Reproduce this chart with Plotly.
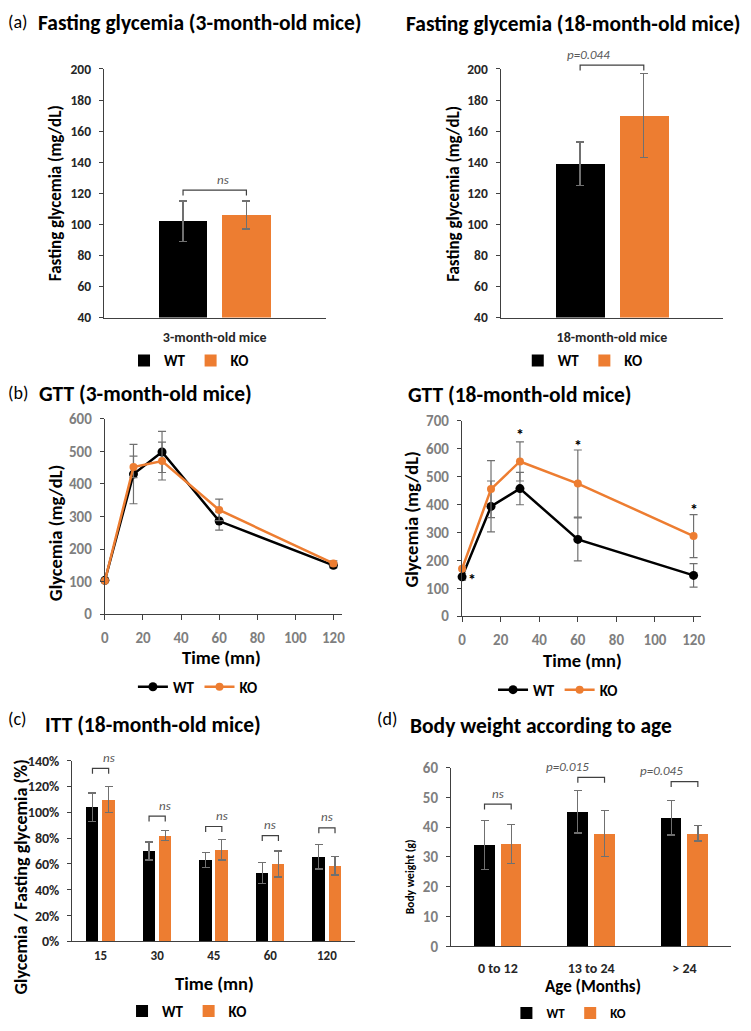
import plotly.graph_objects as go

W, H = 751, 1031
ORANGE = "#ED7D31"
BLACK = "#000000"
FONT = "Carlito, Lato, 'Open Sans', sans-serif"
AXC = "#404040"
ERRC = "#707070"
DARK = "#262626"
GREY = "#7f7f7f"
SIGC = "#595959"

# ---------------- data ----------------
groups = ["WT", "KO"]

# (a) fasting glycemia
fg3_cat = ["3-month-old mice"]
fg3_wt = [102]
fg3_wt_err = [13]
fg3_ko = [106]
fg3_ko_err = [9]
fg3_sig = ["ns"]
fg3_bracket = [122]

fg18_cat = ["18-month-old mice"]
fg18_wt = [139]
fg18_wt_err = [14]
fg18_ko = [170]
fg18_ko_err = [27]
fg18_sig = ["p=0.044"]
fg18_bracket = [202.5]

# (b) GTT
gtt_time = [0, 15, 30, 60, 120]
gtt3_wt = [104, 430, 498, 286, 150]
gtt3_wt_err = [6, 91, 63, 28, 8]
gtt3_ko = [103, 452, 470, 320, 156]
gtt3_ko_err = [5, 33, 58, 33, 8]

gtt18_wt = [141, 393, 457, 275, 146]
gtt18_wt_err = [12, 91, 58, 77, 42]
gtt18_ko = [170, 455, 554, 475, 287]
gtt18_ko_err = [8, 102, 70, 120, 77]
gtt18_star_time = [5, 30, 60, 120]
gtt18_star_y = [144, 665, 626, 397]

# (c) ITT
itt_time = ["15", "30", "45", "60", "120"]
itt_wt = [1.04, 0.70, 0.63, 0.53, 0.655]
itt_wt_err = [0.11, 0.07, 0.06, 0.08, 0.095]
itt_ko = [1.10, 0.82, 0.71, 0.60, 0.585]
itt_ko_err = [0.10, 0.04, 0.08, 0.10, 0.07]
itt_sig = ["ns", "ns", "ns", "ns", "ns"]
itt_bracket = [1.34, 0.97, 0.89, 0.82, 0.88]

# (d) body weight
bw_age = ["0 to 12", "13 to 24", "> 24"]
bw_wt = [34.0, 45.2, 43.2]
bw_wt_err = [8.3, 7.2, 5.8]
bw_ko = [34.4, 37.9, 37.9]
bw_ko_err = [6.6, 7.7, 2.6]
bw_sig = ["ns", "p=0.015", "p=0.045"]
bw_bracket = [47.7, 56.7, 55.3]

# ---------------- panel geometry (pixels) ----------------
PANELS = {
    1: dict(x=(101, 325), y=(61, 314), xr=(-0.5, 0.5), yr=(40, 200)),
    2: dict(x=(502, 727), y=(61, 314), xr=(-0.5, 0.5), yr=(40, 200)),
    3: dict(x=(102, 342), y=(417, 616), xr=(0, 124.7), yr=(0, 600)),
    4: dict(x=(463, 705), y=(419, 618), xr=(0, 124.1), yr=(0, 700)),
    5: dict(x=(69, 355), y=(765, 949), xr=(-0.5, 4.5), yr=(0, 1.4)),
    6: dict(x=(452, 735), y=(772, 954), xr=(-0.5, 2.5), yr=(0, 60)),
}


def px(x):
    return x / W


def py(y):
    return 1 - y / H


def xdom(n):
    a, b = PANELS[n]["x"]
    return [px(a), px(b)]


def ydom(n):
    top, bottom = PANELS[n]["y"]
    return [py(bottom), py(top)]


def to_paper(n, xv, yv):
    p = PANELS[n]
    xd, yd = xdom(n), ydom(n)
    x0, x1 = p["xr"]
    y0, y1 = p["yr"]
    return (xd[0] + (xv - x0) / (x1 - x0) * (xd[1] - xd[0]),
            yd[0] + (yv - y0) / (y1 - y0) * (yd[1] - yd[0]))


def ax_ids(n):
    return ("x" if n == 1 else f"x{n}", "y" if n == 1 else f"y{n}",
            "legend" if n == 1 else f"legend{n}")


BAR_W = 0.22
BAR_GAP = 0.066
WT_OFF = -BAR_W - BAR_GAP / 2
KO_OFF = BAR_GAP / 2
HALF = BAR_GAP / 2 + BAR_W / 2

fig = go.Figure()
annotations = []
shapes = []


def add_bars(n, cats, wt, wt_err, ko, ko_err):
    xs = list(range(len(cats)))
    xid, yid, leg = ax_ids(n)
    for name, vals, errs, off, color in [
        (groups[0], wt, wt_err, WT_OFF, BLACK),
        (groups[1], ko, ko_err, KO_OFF, ORANGE),
    ]:
        fig.add_trace(go.Bar(
            x=xs, y=vals, width=BAR_W, offset=off, name=name,
            marker=dict(color=color, line=dict(width=0)),
            error_y=dict(type="data", array=errs, color=ERRC, thickness=1.3, width=4),
            xaxis=xid, yaxis=yid, legend=leg,
        ))


def add_lines(n, t, wt, wt_err, ko, ko_err):
    xid, yid, leg = ax_ids(n)
    for name, vals, errs, color, ms in [
        (groups[0], wt, wt_err, BLACK, 9),
        (groups[1], ko, ko_err, ORANGE, 8),
    ]:
        fig.add_trace(go.Scatter(
            x=t, y=vals, name=name, mode="lines+markers",
            line=dict(color=color, width=2.5),
            marker=dict(color=color, size=ms),
            error_y=dict(type="data", array=errs, color=ERRC, thickness=1.2, width=4),
            cliponaxis=False, xaxis=xid, yaxis=yid, legend=leg,
        ))


def add_brackets(n, levels, labels, size):
    drop_paper = 5.5 / H
    for i, (lv, lab) in enumerate(zip(levels, labels)):
        xa, ya = to_paper(n, i - HALF, lv)
        xb, _ = to_paper(n, i + HALF, lv)
        shapes.append(dict(
            type="path", xref="paper", yref="paper",
            path=f"M {xa},{ya - drop_paper} L {xa},{ya} L {xb},{ya} L {xb},{ya - drop_paper}",
            line=dict(color=AXC, width=1.2),
        ))
        xm, _ = to_paper(n, i, lv)
        annotations.append(dict(
            x=xm, y=ya, xref="paper", yref="paper", text=f"<i>{lab}</i>", showarrow=False,
            yanchor="middle", yshift=11, font=dict(size=size, color=SIGC, family=FONT),
        ))


def text(t, x, y, size, bold=True, color=BLACK, xanchor="center", angle=0):
    annotations.append(dict(
        x=px(x), y=py(y), xref="paper", yref="paper", text=t, showarrow=False,
        xanchor=xanchor, yanchor="middle", textangle=angle,
        font=dict(size=size, color=color, family=FONT, weight="bold" if bold else "normal"),
    ))


# ---------------- traces ----------------
add_bars(1, fg3_cat, fg3_wt, fg3_wt_err, fg3_ko, fg3_ko_err)
add_bars(2, fg18_cat, fg18_wt, fg18_wt_err, fg18_ko, fg18_ko_err)
add_lines(3, gtt_time, gtt3_wt, gtt3_wt_err, gtt3_ko, gtt3_ko_err)
add_lines(4, gtt_time, gtt18_wt, gtt18_wt_err, gtt18_ko, gtt18_ko_err)
add_bars(5, itt_time, itt_wt, itt_wt_err, itt_ko, itt_ko_err)
add_bars(6, bw_age, bw_wt, bw_wt_err, bw_ko, bw_ko_err)

add_brackets(1, fg3_bracket, fg3_sig, 13)
add_brackets(2, fg18_bracket, fg18_sig, 13)
add_brackets(5, itt_bracket, itt_sig, 13)
add_brackets(6, bw_bracket, bw_sig, 13)

for t, yv in zip(gtt18_star_time, gtt18_star_y):
    annotations.append(dict(
        x=t, y=yv, xref="x4", yref="y4", text="<b>*</b>", showarrow=False,
        yanchor="middle", yshift=-4, font=dict(size=16, color=BLACK, family=FONT),
    ))

# ---------------- titles ----------------
TS = 21.5
text("(a)", 2, 13, 18, bold=False, xanchor="left")
text("Fasting glycemia (3-month-old mice)", 32, 14, TS, xanchor="left")
text("Fasting glycemia (18-month-old mice)", 404, 15, TS, xanchor="left")
text("(b)", 2, 391, 18, bold=False, xanchor="left")
text("GTT (3-month-old mice)", 33, 392, TS, xanchor="left")
text("GTT (18-month-old mice)", 406, 393, TS, xanchor="left")
text("(c)", 2, 723, 18, bold=False, xanchor="left")
text("ITT (18-month-old mice)", 39, 729, TS, xanchor="left")
text("(d)", 375, 723, 18, bold=False, xanchor="left")
text("Body weight according to age", 408, 730, TS, xanchor="left")

# axis titles
text("Fasting glycemia (mg/dL)", 52, 187, 17, angle=-90)
text("Fasting glycemia (mg/dL)", 455, 188, 17, angle=-90)
text("Glycemia (mg/dL)", 52, 533, 18.5, angle=-90)
text("Glycemia (mg/dL)", 412, 520, 18.5, angle=-90)
text("Time (mn)", 220, 660, 18.5)
text("Time (mn)", 585, 663, 18.5)
text("Glycemia / Fasting glycemia (%)", 17, 883, 18, angle=-90)
text("Time (mn)", 213, 992, 18.5)
text("Body weight (g)", 410, 883, 11.5, angle=-90)
text("Age (Months)", 595, 995, 17)

# ---------------- axes ----------------
base = dict(showline=True, linecolor=AXC, linewidth=1.3, showgrid=False,
            zeroline=False, fixedrange=True)


def yax(n, dtick, color, fmt=None, size=14):
    d = dict(base, domain=ydom(n), range=list(PANELS[n]["yr"]), dtick=dtick, tick0=0,
             anchor=ax_ids(n)[0],
             ticks="outside", ticklen=4, tickwidth=1.2, tickcolor=AXC,
             ticklabelstandoff=5,
             tickfont=dict(size=size, color=color, family=FONT, weight="bold"))
    if fmt:
        d["tickformat"] = fmt
    return d


def xcat(n, cats, color, size, standoff):
    return dict(base, domain=xdom(n), range=list(PANELS[n]["xr"]), anchor=ax_ids(n)[1],
                tickvals=list(range(len(cats))), ticktext=cats, ticks="",
                ticklabelstandoff=standoff,
                tickfont=dict(size=size, color=color, family=FONT, weight="bold"))


def xnum(n):
    return dict(base, domain=xdom(n), range=list(PANELS[n]["xr"]), dtick=20, tick0=0,
                anchor=ax_ids(n)[1],
                ticks="outside", ticklen=5, tickwidth=1.2, tickcolor=AXC,
                ticklabelstandoff=5,
                tickfont=dict(size=15, color=GREY, family=FONT, weight="bold"))


def leg(x, y, size=15):
    return dict(x=px(x), y=py(y), xanchor="center", yanchor="middle",
                orientation="h", bgcolor="rgba(0,0,0,0)", itemwidth=30,
                font=dict(size=size, color=BLACK, family=FONT, weight="bold"),
                tracegroupgap=0, itemclick=False, itemdoubleclick=False)


layout = dict(
    width=W, height=H, margin=dict(l=0, r=0, t=0, b=0),
    paper_bgcolor="white", plot_bgcolor="white",
    font=dict(family=FONT, color=BLACK),
    bargap=0,
    xaxis=xcat(1, fg3_cat, DARK, 14, 7),
    yaxis=yax(1, 20, DARK, size=13.5),
    xaxis2=xcat(2, fg18_cat, DARK, 14, 7),
    yaxis2=yax(2, 20, DARK, size=13.5),
    xaxis3=xnum(3),
    yaxis3=yax(3, 100, GREY, size=15),
    xaxis4=xnum(4),
    yaxis4=yax(4, 100, GREY, size=15),
    xaxis5=xcat(5, itt_time, DARK, 13, 2),
    yaxis5=yax(5, 0.2, DARK, fmt=".0%", size=14),
    xaxis6=xcat(6, bw_age, DARK, 14, 9),
    yaxis6=yax(6, 10, GREY, size=15),
    annotations=annotations,
    shapes=shapes,
    legend=leg(187, 358),
    legend2=leg(585, 358),
    legend3=leg(196, 690),
    legend4=leg(560, 693),
    legend5=leg(185, 1020),
    legend6=leg(571, 1022, 13),
)

fig.update_layout(**layout)
fig.write_html(
    "out.html",
    config={"displayModeBar": False},
    post_script="document.body.style.margin='0';document.body.style.overflow='hidden';",
)
